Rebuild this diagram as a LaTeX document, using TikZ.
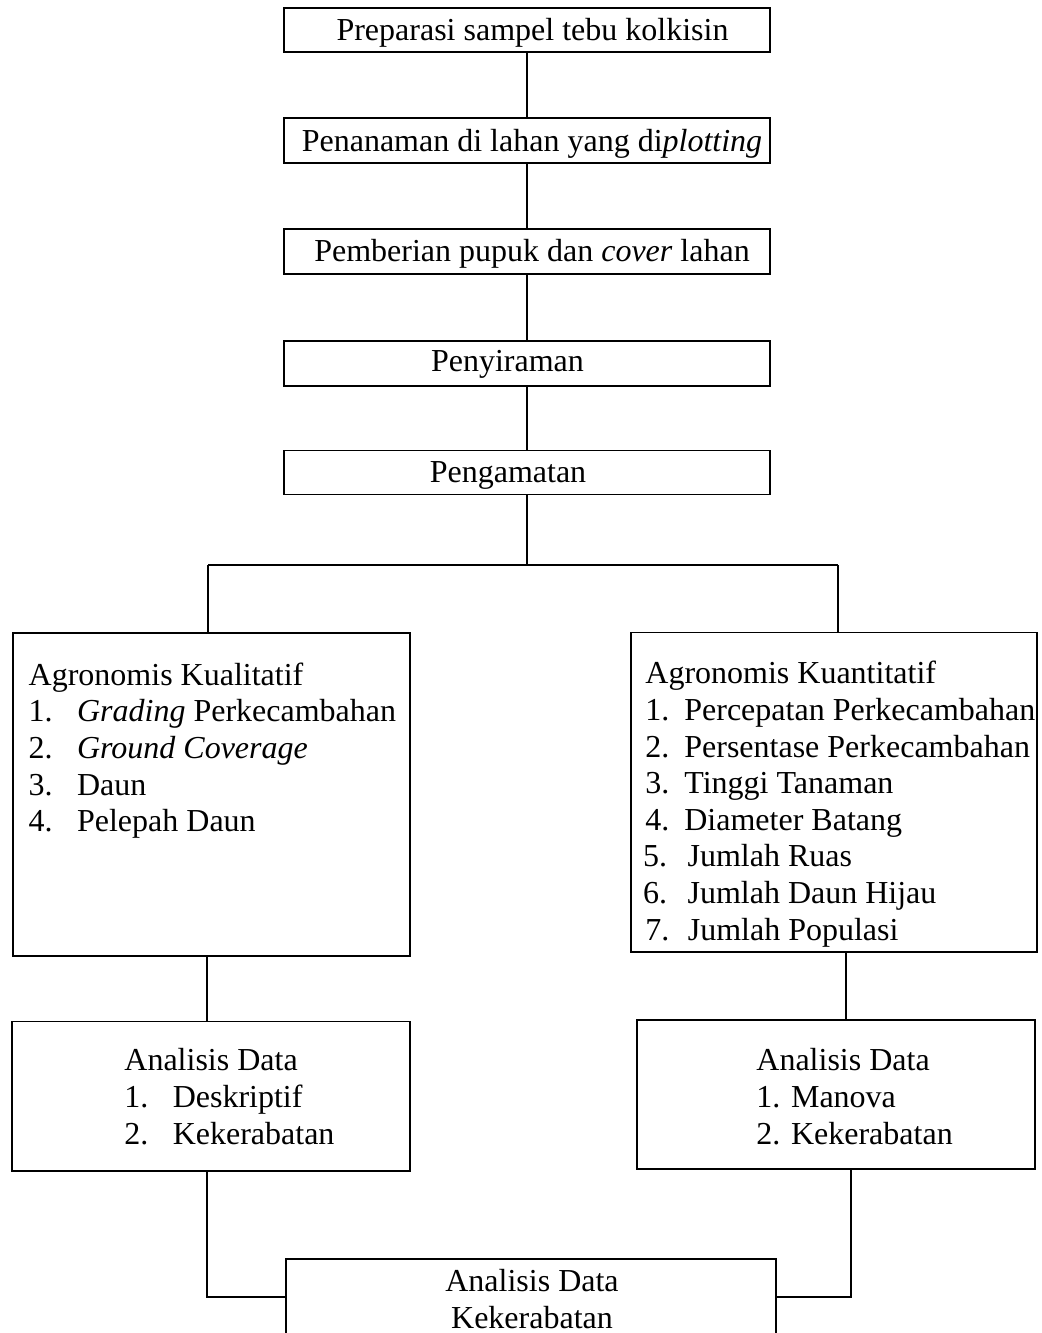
\documentclass[tikz,border=0pt]{standalone}
\usepackage{fontspec}
\setmainfont{Liberation Serif}
\tikzset{
  stepbox/.style={draw, line width=0.8pt, inner sep=0pt},
  txt/.style={font=\fontsize{16}{18.3}\selectfont, inner sep=0pt, align=left},
  link/.style={line width=0.8pt}
}
\newcommand{\itemno}[2][24.2pt]{\makebox[#1][l]{#2}}
\begin{document}
\begin{tikzpicture}[x=0.5pt, y=-0.5pt]
    \path[use as bounding box, fill=white] (0,0) rectangle (1041,1333);
    \clip (0,0) rectangle (1041,1333);
    % main steps
    \node[stepbox, minimum width=243pt, minimum height=22pt] (prep) at (527,30) {};
    \node[stepbox, minimum width=243pt, minimum height=22.5pt] (tanam) at (527,140.5) {};
    \node[stepbox, minimum width=243pt, minimum height=22.5pt] (pupuk) at (527,251.5) {};
    \node[stepbox, minimum width=243pt, minimum height=22.5pt] (siram) at (527,363.3) {};
    \node[stepbox, minimum width=243pt, minimum height=22pt] (amat) at (527,472.3) {};
    \node[txt, anchor=base] (prep-t) at (532.5,40.7) {Preparasi sampel tebu kolkisin};
    \node[txt, anchor=base] (tanam-t) at (532,151) {Penanaman di lahan yang di\textit{plotting}};
    \node[txt, anchor=base] (pupuk-t) at (532,261.7) {Pemberian pupuk dan \textit{cover} lahan};
    \node[txt, anchor=base] (siram-t) at (507.5,371.7) {Penyiraman};
    \node[txt, anchor=base] (amat-t) at (508,482.3) {Pengamatan};
    % two branches
    \node[stepbox, minimum width=198.5pt, minimum height=161.5pt] (kual) at (211.5,794.3) {};
    \node[stepbox, minimum width=203pt, minimum height=159.8pt] (kuan) at (834,792.3) {};
    \node[txt, anchor=base west] (kual-t) at (28.3,831.7) {Agronomis Kualitatif\\
        \itemno{1.}\textit{Grading} Perkecambahan\\
        \itemno{2.}\textit{Ground Coverage}\\
        \itemno{3.}Daun\\
        \itemno{4.}Pelepah Daun};
    \node[txt, anchor=base west] (kuan-t) at (645,940) {Agronomis Kuantitatif\\
        \itemno[19.5pt]{1.}Percepatan Perkecambahan\\
        \itemno[19.5pt]{2.}Persentase Perkecambahan\\
        \itemno[19.5pt]{3.}Tinggi Tanaman\\
        \itemno[19.5pt]{4.}Diameter Batang\\
        \hspace*{-1.2pt}\itemno[22.3pt]{5.}Jumlah Ruas\\
        \hspace*{-1.2pt}\itemno[22.3pt]{6.}Jumlah Daun Hijau\\
        \itemno[21.2pt]{7.}Jumlah Populasi};
    % analysis
    \node[stepbox, minimum width=198.8pt, minimum height=74.7pt] (analkual) at (211,1096.3) {};
    \node[stepbox, minimum width=199.2pt, minimum height=74.5pt] (analkuan) at (836,1094.5) {};
    \node[txt, anchor=base west] (analkual-t) at (124,1144) {Analisis Data\\
        \itemno{1.}Deskriptif\\
        \itemno{2.}Kekerabatan};
    \node[txt, anchor=base west] (analkuan-t) at (756,1144) {Analisis Data\\
        1. Manova\\
        2. Kekerabatan};
    \node[stepbox, minimum width=245pt, minimum height=50pt] (kerab) at (531,1309) {};
    \node[txt, align=center, anchor=base] (kerab-t) at (532,1328.5) {Analisis Data\\Kekerabatan};
    % connectors
    \coordinate (jl) at (208,565);
    \coordinate (jr) at (838,565);
    \coordinate (ml) at (207,1000);
    \coordinate (mr) at (846,1000);
    \coordinate (bl) at (207,1297);
    \coordinate (br) at (851,1297);
    \draw[link] (prep) -- (tanam);
    \draw[link] (tanam) -- (pupuk);
    \draw[link] (pupuk) -- (siram);
    \draw[link] (siram) -- (amat);
    \draw[link] (amat) -- (amat |- jl);
    \draw[link] (jl) -- (jr);
    \draw[link] (jl) -- (jl |- kual.north);
    \draw[link] (jr) -- (jr |- kuan.north);
    \draw[link] (ml |- kual.south) -- (ml |- analkual.north);
    \draw[link] (mr |- kuan.south) -- (mr |- analkuan.north);
    \draw[link] (bl |- analkual.south) -- (bl) -- (bl -| kerab.west);
    \draw[link] (br |- analkuan.south) -- (br) -- (br -| kerab.east);
\end{tikzpicture}
\end{document}
